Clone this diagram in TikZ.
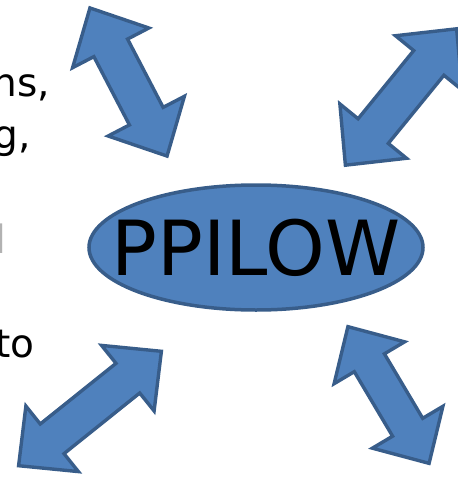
\documentclass[tikz,border=0pt]{standalone}
\usepackage{fontspec}
\setmainfont{DejaVu Sans}
\usetikzlibrary{shapes.geometric}
\definecolor{accfill}{RGB}{79,129,189}
\definecolor{accline}{RGB}{56,93,138}
\tikzset{
  blockarrow/.style={fill=accfill, draw=accline, line width=3.4pt, line join=miter},
  hub/.style={ellipse, fill=accfill, draw=accline, line width=3.5pt, inner sep=0pt,
    minimum width=334pt, minimum height=125pt, font=\fontsize{76}{80}\selectfont},
  sidetext/.style={anchor=base east, inner sep=0pt, font=\fontsize{39}{44}\selectfont}
}
\newcommand\dblarr[7]{%
  \begin{scope}[shift={(#1,#2)},rotate=#3]
    \pgfmathsetmacro\aL{(#4-4)/2}%
    \pgfmathsetmacro\aH{(#5-4)/2}%
    \pgfmathsetmacro\aS{(#6-3)/2}%
    \pgfmathsetmacro\aB{(#4-4)/2-#7}%
    \draw[blockarrow] (\aL,0) -- (\aB,\aH) -- (\aB,\aS) -- (-\aB,\aS) -- (-\aB,\aH)
      -- (-\aL,0) -- (-\aB,-\aH) -- (-\aB,-\aS) -- (\aB,-\aS) -- (\aB,-\aH) -- cycle;
  \end{scope}}
\begin{document}
\begin{tikzpicture}[x=1pt,y=-1pt]
\useasboundingbox (0,0) rectangle (458,477);
% side text fragments
\node[sidetext] (t1) at (50,96) {ns,};
\node[sidetext] (t2) at (31,148) {g,};
\node[sidetext, text=black!30] (t3) at (6.6,253) {l};
\node[sidetext] (t4) at (35,357) {to};
% central ellipse
\node[hub] (ppilow) at (256,247.5) {\makebox[0pt]{PPILOW}};
% double-headed block arrows
\dblarr{128.5}{82}{-62.5}{171}{90}{41}{45}
\dblarr{401}{97}{50.8}{180}{90}{42}{44}
\dblarr{90}{408.5}{38.7}{187}{88}{41}{43}
\dblarr{388.5}{395}{-59.3}{163}{86}{38}{42}
\end{tikzpicture}
\end{document}
